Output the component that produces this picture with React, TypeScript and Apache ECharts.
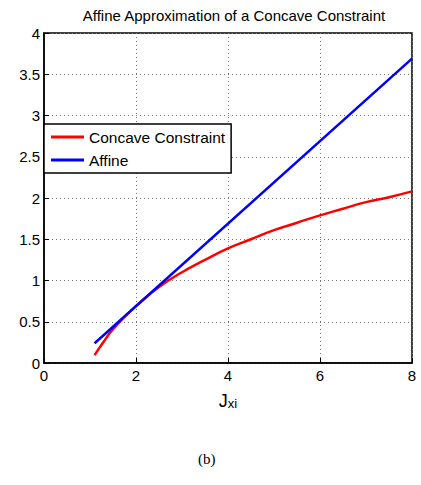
import React, { useEffect, useRef } from "react";
import * as echarts from "echarts";

const concaveX = [1.1, 1.2, 1.3, 1.4, 1.5, 1.75, 2, 2.5, 3, 3.5, 4, 4.5, 5, 5.5, 6, 6.5, 7, 7.5, 8];
const concaveY = [0.095, 0.18, 0.26, 0.34, 0.41, 0.56, 0.69, 0.92, 1.1, 1.25, 1.39, 1.5, 1.61, 1.7, 1.79, 1.87, 1.95, 2.01, 2.08];
const affineX = [1.1, 8];
const affineY = [0.24, 3.69];

export default function App() {
  const ref = useRef<HTMLDivElement>(null);
  useEffect(() => {
    const chart = echarts.init(ref.current!, null, { renderer: "svg" });
    const font = "Liberation Sans, Arial, sans-serif";
    chart.setOption({
      animation: false,
      textStyle: { fontFamily: font },
      title: {
        text: "Affine Approximation of a Concave Constraint",
        left: 229,
        textAlign: "center",
        top: 3,
        textStyle: { fontSize: 15, fontWeight: "normal", color: "#000", fontFamily: font },
      },
      grid: {
        left: 44,
        right: 9,
        top: 33,
        bottom: 122,
        show: true,
        borderColor: "#000",
        borderWidth: 1.5,
        backgroundColor: "transparent",
      },
      legend: {
        left: 44,
        top: 124,
        orient: "vertical",
        backgroundColor: "#fff",
        borderColor: "#000",
        borderWidth: 1.5,
        borderRadius: 0,
        padding: [5, 6, 5, 7],
        itemWidth: 33,
        itemHeight: 3,
        itemGap: 7,
        icon: "rect",
        textStyle: { fontSize: 15.5, color: "#000", fontFamily: font },
        data: ["Concave Constraint", "Affine"],
      },
      xAxis: {
        type: "value",
        min: 0,
        max: 8,
        interval: 2,
        name: "{a|J}{b|xi}",
        nameLocation: "middle",
        nameGap: 25,
        nameTextStyle: {
          rich: {
            a: { fontSize: 18, color: "#000", fontFamily: font, verticalAlign: "bottom" },
            b: { fontSize: 13, color: "#000", fontFamily: font, padding: [9, 0, 0, 0], verticalAlign: "bottom" },
          },
        },
        axisLine: { show: true, lineStyle: { color: "#000", width: 1.5 } },
        axisTick: { show: true, inside: true, length: 5, lineStyle: { color: "#000" } },
        axisLabel: { fontSize: 15, color: "#000", margin: 5, fontFamily: font },
        splitLine: { show: true, lineStyle: { color: "#777", type: [1, 3], width: 1 } },
      },
      yAxis: {
        type: "value",
        min: 0,
        max: 4,
        interval: 0.5,
        axisLine: { show: true, lineStyle: { color: "#000", width: 1.5 } },
        axisTick: { show: true, inside: true, length: 5, lineStyle: { color: "#000" } },
        axisLabel: { fontSize: 15, color: "#000", margin: 4, fontFamily: font },
        splitLine: { show: true, lineStyle: { color: "#777", type: [1, 3], width: 1 } },
      },
      series: [
        {
          name: "Concave Constraint",
          type: "line",
          data: concaveX.map((x, i) => [x, concaveY[i]]),
          smooth: true,
          showSymbol: false,
          symbol: "none",
          lineStyle: { color: "#ff0000", width: 2.5 },
          itemStyle: { color: "#ff0000" },
        },
        {
          name: "Affine",
          type: "line",
          data: affineX.map((x, i) => [x, affineY[i]]),
          showSymbol: false,
          symbol: "none",
          lineStyle: { color: "#0000ff", width: 2.5 },
          itemStyle: { color: "#0000ff" },
        },
      ],
      graphic: [
        {
          type: "text",
          left: 198,
          top: 451,
          style: { text: "(b)", font: "15px 'Liberation Serif', 'Times New Roman', serif", fill: "#000" },
        },
      ],
    });
    return () => chart.dispose();
  }, []);
  return <div ref={ref} style={{ width: 421, height: 485, position: "absolute", left: 0, top: 0 }} />;
}
